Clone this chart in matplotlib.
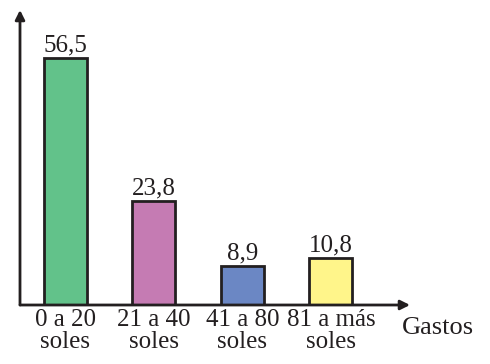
import matplotlib.pyplot as plt

categories = ['0 a 20\nsoles', '21 a 40\nsoles', '41 a 80\nsoles', '81 a más\nsoles']
values = [56.5, 23.8, 8.9, 10.8]
labels = ['56,5', '23,8', '8,9', '10,8']
colors = ['#62C28A', '#C57BB3', '#6B87C4', '#FFF58A']

ink = '#231F20'
plt.rcParams['font.family'] = ['Liberation Serif', 'DejaVu Serif']

fig = plt.figure(figsize=(4.9, 3.64), dpi=100)
ax = fig.add_axes([20/490, 59/364, 390/490, 295/364])

x = range(len(values))
bars = ax.bar(x, values, width=0.486, color=colors, edgecolor=ink, linewidth=2)

for b, lab in zip(bars, labels):
    ax.annotate(lab, (b.get_x() + b.get_width()/2, b.get_height()),
                xytext=(0, 1), textcoords='offset points',
                ha='center', va='bottom', fontsize=18, color=ink)

ax.set_xlim(-0.514, 3.893)
ax.set_ylim(0, 67.5)
for s in ax.spines.values():
    s.set_visible(False)
ax.set_yticks([])
ax.set_xticks(list(x))
ax.set_xticklabels(categories, fontsize=18, color=ink, linespacing=1.0)
ax.tick_params(axis='x', length=0, pad=3)

# axes drawn as arrows
arrow = dict(arrowstyle='-|>', lw=2, color=ink, mutation_scale=14, shrinkA=0, shrinkB=0)
ax.annotate('', xy=(1, 0), xytext=(0, 0), xycoords='axes fraction', arrowprops=arrow)
ax.annotate('', xy=(0, 1), xytext=(0, 0), xycoords='axes fraction', arrowprops=arrow)

fig.text(402/490, 1 - 328/364, 'Gastos', fontsize=19, color=ink, va='center', ha='left')

fig.savefig('out.png', dpi=100)
